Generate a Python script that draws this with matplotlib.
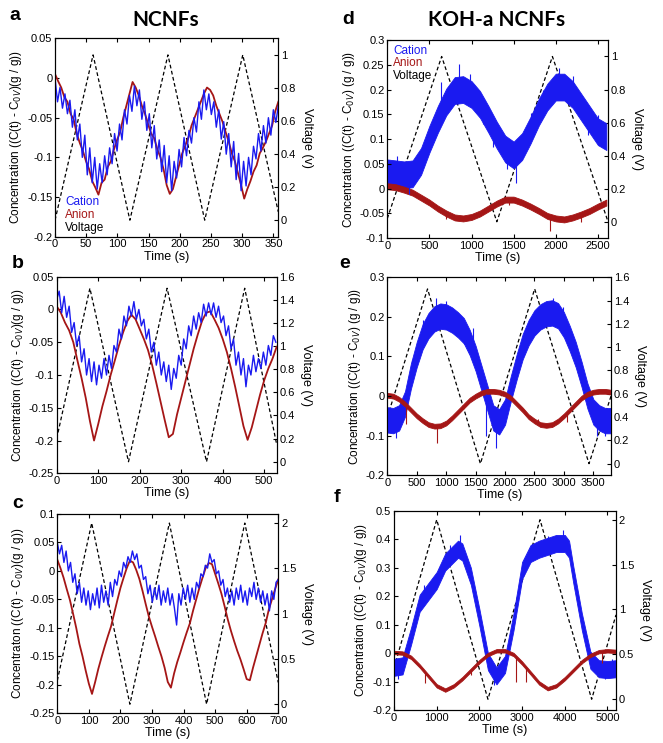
import matplotlib.pyplot as plt
import numpy as np
from matplotlib.ticker import FuncFormatter

plt.rcParams['font.family'] = ['Liberation Sans', 'DejaVu Sans']
plt.rcParams['axes.unicode_minus'] = False

BLUE = '#1a1af0'
RED = '#a51616'

# ============ panel a : NCNFs, 0-1 V ============
a_end = 358
a_cation = [0.000, -0.030, -0.012, -0.038, -0.020, -0.045, -0.028, -0.062, -0.040, -0.078,
            -0.058, -0.100, -0.072, -0.122, -0.088, -0.132, -0.100, -0.140, -0.108, -0.132,
            -0.098, -0.122, -0.088, -0.108, -0.070, -0.092, -0.058, -0.078, -0.040, -0.058,
            -0.022, -0.042, -0.010, -0.035, -0.015, -0.052, -0.030, -0.066, -0.045, -0.088,
            -0.060, -0.102, -0.078, -0.118, -0.085, -0.132, -0.098, -0.142, -0.105, -0.126,
            -0.090, -0.112, -0.075, -0.098, -0.066, -0.082, -0.050, -0.068, -0.030, -0.052,
            -0.015, -0.040, -0.020, -0.046, -0.030, -0.062, -0.040, -0.077, -0.055, -0.096,
            -0.070, -0.112, -0.080, -0.128, -0.095, -0.142, -0.105, -0.136, -0.100, -0.122,
            -0.086, -0.102, -0.070, -0.092, -0.060, -0.082, -0.050, -0.072, -0.040, -0.056,
            -0.035]
a_anion = [0.005, -0.004, -0.012, -0.024, -0.030, -0.045, -0.052, -0.070, -0.082, -0.092,
           -0.105, -0.115, -0.130, -0.138, -0.147, -0.132, -0.128, -0.112, -0.105, -0.090,
           -0.078, -0.068, -0.050, -0.035, -0.020, -0.005, -0.012, -0.022, -0.035, -0.045,
           -0.058, -0.070, -0.076, -0.090, -0.100, -0.115, -0.135, -0.146, -0.140, -0.125,
           -0.110, -0.095, -0.085, -0.075, -0.060, -0.050, -0.040, -0.030, -0.020, -0.012,
           -0.015, -0.022, -0.035, -0.045, -0.055, -0.068, -0.080, -0.095, -0.105, -0.120,
           -0.135, -0.152, -0.140, -0.130, -0.118, -0.110, -0.095, -0.088, -0.080, -0.070,
           -0.060, -0.042, -0.030]
a_volt_t = [0, 61, 120, 181, 240, 301, 358]
a_volt_v = [0.0, 1.0, 0.0, 1.0, 0.0, 1.0, 0.05]

# ============ panel b : NCNFs, 0-1.5 V ============
b_end = 530
b_cation = [0.015, 0.028, -0.005, 0.020, -0.012, 0.005, -0.035, -0.020, -0.055, -0.040,
            -0.080, -0.060, -0.100, -0.075, -0.110, -0.080, -0.115, -0.085, -0.105, -0.075,
            -0.100, -0.070, -0.090, -0.055, -0.065, -0.030, -0.045, -0.010, -0.025, 0.005,
            -0.010, 0.012, -0.015, 0.000, -0.025, -0.015, -0.045, -0.030, -0.065, -0.050,
            -0.085, -0.065, -0.100, -0.080, -0.110, -0.085, -0.122, -0.090, -0.105, -0.070,
            -0.085, -0.045, -0.060, -0.025, -0.040, -0.010, -0.030, -0.005, -0.020, 0.008,
            -0.010, 0.010, -0.008, 0.010, -0.012, 0.005, -0.020, -0.010, -0.040, -0.025,
            -0.060, -0.045, -0.085, -0.065, -0.100, -0.075, -0.118, -0.085, -0.100, -0.070,
            -0.095, -0.075, -0.090, -0.065, -0.085, -0.055, -0.070, -0.040, -0.050]
b_anion = [0.005, -0.005, -0.020, -0.032, -0.050, -0.078, -0.105, -0.135, -0.170, -0.200,
           -0.175, -0.148, -0.125, -0.100, -0.078, -0.055, -0.035, -0.018, -0.008, -0.015,
           -0.030, -0.045, -0.062, -0.085, -0.112, -0.140, -0.168, -0.195, -0.190, -0.160,
           -0.135, -0.110, -0.085, -0.060, -0.038, -0.018, -0.005, -0.003, -0.015, -0.028,
           -0.045, -0.065, -0.090, -0.118, -0.148, -0.178, -0.199, -0.180, -0.155, -0.130,
           -0.108, -0.090, -0.075, -0.057]
b_volt_t = [0, 80, 173, 266, 361, 453, 530]
b_volt_v = [0.2, 1.5, 0.0, 1.5, 0.0, 1.5, 0.15]

# ============ panel c : NCNFs, 0-2 V ============
c_end = 700
c_cation = [0.050, 0.030, 0.045, 0.015, 0.035, 0.000, 0.015, -0.020, -0.005, -0.040,
            -0.020, -0.055, -0.030, -0.060, -0.035, -0.068, -0.040, -0.060, -0.030, -0.065,
            -0.025, -0.055, -0.035, -0.060, -0.020, -0.045, -0.015, -0.025, 0.000, -0.010,
            0.015, 0.005, 0.025, 0.015, 0.035, 0.020, 0.030, 0.005, 0.010, -0.015,
            -0.010, -0.040, -0.025, -0.055, -0.030, -0.050, -0.025, -0.060, -0.035, -0.055,
            -0.030, -0.060, -0.040, -0.065, -0.095, -0.040, -0.060, -0.030, -0.050, -0.025,
            -0.055, -0.030, -0.050, -0.020, -0.030, -0.005, -0.010, 0.010, 0.005, 0.030,
            0.015, 0.020, -0.005, 0.000, -0.025, -0.015, -0.045, -0.030, -0.055, -0.035,
            -0.060, -0.030, -0.050, -0.025, -0.055, -0.035, -0.060, -0.030, -0.045, -0.020,
            -0.050, -0.030, -0.055, -0.035, -0.060, -0.040, -0.070, -0.035, -0.050, -0.020,
            -0.015]
c_anion = [0.020, 0.005, -0.012, -0.032, -0.051, -0.075, -0.100, -0.128, -0.150, -0.175,
           -0.198, -0.216, -0.195, -0.172, -0.152, -0.133, -0.115, -0.098, -0.075, -0.052,
           -0.030, -0.012, 0.005, 0.018, 0.015, 0.002, -0.014, -0.035, -0.058, -0.080,
           -0.098, -0.115, -0.133, -0.150, -0.170, -0.195, -0.205, -0.180, -0.160, -0.143,
           -0.125, -0.108, -0.092, -0.070, -0.050, -0.030, -0.012, 0.005, 0.014, 0.012,
           -0.005, -0.022, -0.040, -0.062, -0.085, -0.105, -0.123, -0.140, -0.155, -0.172,
           -0.190, -0.192, -0.170, -0.150, -0.130, -0.110, -0.092, -0.068, -0.050, -0.032,
           -0.015]
c_volt_t = [0, 109, 230, 355, 473, 594, 700]
c_volt_v = [0.26, 2.0, 0.0, 2.0, 0.0, 2.0, 0.24]

# ============ panel d : KOH-a NCNFs, 0-1 V ============
d_time = list(range(0, 2700, 100))
d_cation = [0.032, 0.030, 0.028, 0.030, 0.055, 0.100, 0.140, 0.175, 0.198, 0.200,
            0.190, 0.170, 0.140, 0.108, 0.080, 0.068, 0.085, 0.118, 0.155, 0.185,
            0.205, 0.205, 0.190, 0.165, 0.140, 0.115, 0.105]
d_anion = [0.005, 0.003, -0.002, -0.008, -0.018, -0.028, -0.040, -0.050, -0.058, -0.060,
           -0.057, -0.050, -0.040, -0.030, -0.022, -0.022, -0.028, -0.036, -0.045, -0.055,
           -0.060, -0.062, -0.058, -0.052, -0.045, -0.036, -0.028]
d_cation_noise = 0.027
d_anion_noise = 0.006
d_cation_spike_t = [120, 260, 420, 560, 640, 850, 980, 1130, 1250, 1420, 1530, 1700,
                    1850, 2040, 2200, 2380, 2500]
d_cation_spike_v = [0.065, -0.010, 0.088, 0.145, 0.215, 0.252, 0.232, 0.130, 0.085,
                    0.040, 0.012, 0.152, 0.200, 0.243, 0.228, 0.108, 0.148]
d_anion_spike_t = [700, 1450, 1930, 2300]
d_anion_spike_v = [-0.062, -0.033, -0.085, -0.068]
d_volt_t = [0, 645, 1300, 1960, 2620]
d_volt_v = [0.02, 1.0, 0.0, 1.0, 0.0]

# ============ panel e : KOH-a NCNFs, 0-1.5 V ============
e_time = list(range(0, 3900, 100))
e_cation = [-0.060, -0.062, -0.055, -0.020, 0.050, 0.105, 0.150, 0.178, 0.195, 0.202,
            0.200, 0.192, 0.180, 0.165, 0.135, 0.095, 0.045, -0.005, -0.055, -0.065,
            -0.040, 0.020, 0.075, 0.125, 0.160, 0.185, 0.200, 0.208, 0.210, 0.203,
            0.180, 0.145, 0.105, 0.055, 0.000, -0.040, -0.055, -0.062, -0.062]
e_anion = [0.002, 0.000, -0.008, -0.020, -0.035, -0.050, -0.062, -0.072, -0.076, -0.075,
           -0.068, -0.055, -0.040, -0.025, -0.010, 0.000, 0.008, 0.012, 0.012, 0.010,
           0.005, -0.005, -0.020, -0.035, -0.052, -0.063, -0.072, -0.074, -0.072, -0.063,
           -0.050, -0.035, -0.020, -0.005, 0.005, 0.010, 0.012, 0.012, 0.010]
e_cation_noise = 0.032
e_anion_noise = 0.006
e_cation_spike_t = [150, 420, 600, 830, 1000, 1300, 1450, 1680, 1850, 2150, 2450, 2810,
                    2980, 3250, 3560, 3700]
e_cation_spike_v = [-0.105, 0.092, 0.192, 0.247, 0.240, 0.132, 0.172, -0.100, -0.130,
                    0.065, 0.200, 0.247, 0.225, 0.070, -0.100, -0.102]
e_anion_spike_t = [320, 850, 2560, 3060]
e_anion_spike_v = [-0.070, -0.118, -0.058, -0.065]
e_volt_t = [0, 683, 1581, 2503, 3426, 3800]
e_volt_v = [0.4, 1.5, 0.0, 1.5, 0.0, 0.58]

# ============ panel f : KOH-a NCNFs, 0-2 V ============
f_cation_t = [0, 200, 400, 600, 800, 1000, 1200, 1400, 1500, 1600, 1800, 2000, 2200, 2400,
              2600, 2800, 3000, 3200, 3400, 3600, 3800, 4000, 4100, 4200, 4400, 4600, 4800,
              5000, 5200]
f_cation = [-0.050, -0.045, 0.060, 0.175, 0.215, 0.255, 0.320, 0.350, 0.365, 0.355,
            0.270, 0.125, -0.030, -0.080, -0.040, 0.110, 0.290, 0.350, 0.365, 0.375,
            0.385, 0.385, 0.365, 0.275, 0.110, -0.025, -0.055, -0.058, -0.055]
f_anion_t = list(range(0, 5400, 200))
f_anion = [0.002, 0.000, -0.015, -0.045, -0.080, -0.115, -0.130, -0.115, -0.090, -0.060,
           -0.030, -0.005, 0.008, 0.008, -0.005, -0.035, -0.070, -0.105, -0.125, -0.115,
           -0.090, -0.060, -0.030, -0.008, 0.005, 0.008, 0.006]
f_cation_noise = 0.03
f_anion_noise = 0.006
f_cation_spike_t = [100, 700, 1300, 1550, 2350, 3600, 3950, 4950, 5100]
f_cation_spike_v = [-0.092, 0.240, 0.380, 0.415, -0.112, 0.410, 0.432, -0.092, -0.020]
f_anion_spike_t = [724, 1815, 2866, 3100, 4880]
f_anion_spike_v = [-0.105, -0.077, -0.100, -0.100, -0.035]
f_volt_t = [0, 1000, 2200, 3420, 4630, 5200]
f_volt_v = [0.35, 2.0, 0.0, 2.0, 0.0, 0.94]

fmt = FuncFormatter(lambda v, p: '0' if abs(v) < 1e-9 else '%g' % round(v, 6))

fig = plt.figure(figsize=(6.63, 7.43), dpi=100)


def setup(rect, xlim, xticks, ylim, yticks, vlim, vticks, ylabel, vlabel):
    ax = fig.add_axes(rect)
    tw = ax.twinx()
    ax.set_zorder(tw.get_zorder() + 1)
    ax.patch.set_visible(False)
    ax.set_xlim(xlim)
    ax.set_ylim(ylim)
    ax.set_xticks(xticks)
    ax.set_yticks(yticks)
    tw.set_ylim(vlim)
    tw.set_yticks(vticks)
    for a_ in (ax, tw):
        a_.xaxis.set_major_formatter(fmt)
        a_.yaxis.set_major_formatter(fmt)
        a_.tick_params(direction='in', length=3, labelsize=8, pad=2)
        for s in a_.spines.values():
            s.set_linewidth(0.8)
    ax.tick_params(top=True)
    ax.set_xlabel('Time (s)', fontsize=9, labelpad=1)
    ax.set_ylabel(ylabel, fontsize=8.5, labelpad=2)
    tw.set_ylabel(vlabel, fontsize=9, rotation=-90, labelpad=12)
    return ax, tw


def volt(tw, t, v):
    tw.plot(t, v, color='black', lw=0.9, ls=(0, (3, 2)))


def band(ax, t, mid, noise, color):
    mid = np.asarray(mid)
    ax.fill_between(t, mid - noise, mid + noise, color=color, lw=0.6, edgecolor=color)


def spikes(ax, mid_t, mid, st, sv, color):
    base = np.interp(st, mid_t, mid)
    ax.vlines(st, base, sv, color=color, lw=0.8)


ylab1 = 'Concentration ((C(t) - C$_{0V}$)(g / g))'
ylab2 = 'Concentration ((C(t) - C$_{0V}$) (g / g))'

# a
ax, tw = setup([0.0830, 0.6814, 0.3368, 0.2670], (0, a_end), range(0, 351, 50),
               (-0.2, 0.05), [-0.2, -0.15, -0.1, -0.05, 0, 0.05],
               (-0.1, 1.1), [0, 0.2, 0.4, 0.6, 0.8, 1], ylab1, 'Voltage (v)')
volt(tw, a_volt_t, a_volt_v)
ax.plot(np.linspace(0, a_end, len(a_anion)), a_anion, color=RED, lw=1.3)
ax.plot(np.linspace(0, a_end, len(a_cation)), a_cation, color=BLUE, lw=1.0)
for txt, col, yy in [('Cation', BLUE, 0.176), ('Anion', RED, 0.109), ('Voltage', 'black', 0.045)]:
    ax.text(0.045, yy, txt, color=col, fontsize=8.5, transform=ax.transAxes, va='center')

# b
ax, tw = setup([0.0855, 0.3630, 0.3318, 0.2646], (0, b_end), range(0, 501, 100),
               (-0.25, 0.05), [-0.25, -0.2, -0.15, -0.1, -0.05, 0, 0.05],
               (-0.1, 1.6), [0, 0.2, 0.4, 0.6, 0.8, 1, 1.2, 1.4, 1.6], ylab1, 'Voltage (V)')
volt(tw, b_volt_t, b_volt_v)
ax.plot(np.linspace(0, b_end, len(b_anion)), b_anion, color=RED, lw=1.3)
ax.plot(np.linspace(0, 528, len(b_cation)), b_cation, color=BLUE, lw=1.0)

# c
ax, tw = setup([0.0864, 0.0400, 0.3333, 0.2682], (0, c_end), range(0, 701, 100),
               (-0.25, 0.1), [-0.25, -0.2, -0.15, -0.1, -0.05, 0, 0.05, 0.1],
               (-0.1, 2.1), [0, 0.5, 1, 1.5, 2],
               'Concentraton ((C(t) - C$_{0V}$)(g / g))', 'Voltage (V)')
volt(tw, c_volt_t, c_volt_v)
ax.plot(np.linspace(0, c_end, len(c_anion)), c_anion, color=RED, lw=1.3)
ax.plot(np.linspace(0, c_end, len(c_cation)), c_cation, color=BLUE, lw=1.0)

# d
ax, tw = setup([0.5842, 0.6793, 0.3329, 0.2669], (0, 2620), range(0, 2501, 500),
               (-0.1, 0.3), [-0.1, -0.05, 0, 0.05, 0.1, 0.15, 0.2, 0.25, 0.3],
               (-0.1, 1.1), [0, 0.2, 0.4, 0.6, 0.8, 1], ylab2, 'Voltage (V)')
volt(tw, d_volt_t, d_volt_v)
band(ax, d_time, d_cation, d_cation_noise, BLUE)
spikes(ax, d_time, d_cation, d_cation_spike_t, d_cation_spike_v, BLUE)
band(ax, d_time, d_anion, d_anion_noise, RED)
spikes(ax, d_time, d_anion, d_anion_spike_t, d_anion_spike_v, RED)
for txt, col, yy in [('Cation', BLUE, 0.946), ('Anion', RED, 0.883), ('Voltage', 'black', 0.819)]:
    ax.text(0.027, yy, txt, color=col, fontsize=8.5, transform=ax.transAxes, va='center')

# e
ax, tw = setup([0.5842, 0.3603, 0.3374, 0.2665], (0, 3800), range(0, 3501, 500),
               (-0.2, 0.3), [-0.2, -0.1, 0, 0.1, 0.2, 0.3],
               (-0.1, 1.6), [0, 0.2, 0.4, 0.6, 0.8, 1, 1.2, 1.4, 1.6], ylab2, 'Voltage (V)')
volt(tw, e_volt_t, e_volt_v)
band(ax, e_time, e_cation, e_cation_noise, BLUE)
spikes(ax, e_time, e_cation, e_cation_spike_t, e_cation_spike_v, BLUE)
band(ax, e_time, e_anion, e_anion_noise, RED)
spikes(ax, e_time, e_anion, e_anion_spike_t, e_anion_spike_v, RED)

# f
ax, tw = setup([0.5943, 0.0444, 0.3348, 0.2682], (0, 5200), range(0, 5001, 1000),
               (-0.2, 0.5), [-0.2, -0.1, 0, 0.1, 0.2, 0.3, 0.4, 0.5],
               (-0.12, 2.1), [0, 0.5, 1, 1.5, 2], ylab1, 'Voltage (V)')
volt(tw, f_volt_t, f_volt_v)
band(ax, f_cation_t, f_cation, f_cation_noise, BLUE)
spikes(ax, f_cation_t, f_cation, f_cation_spike_t, f_cation_spike_v, BLUE)
band(ax, f_anion_t, f_anion, f_anion_noise, RED)
spikes(ax, f_anion_t, f_anion, f_anion_spike_t, f_anion_spike_v, RED)

# titles and panel letters
fig.text(166 / 663, 1 - 20 / 743, 'NCNFs', fontsize=15, fontweight='bold',
         family=['Lato', 'DejaVu Sans'], ha='center', va='center')
fig.text(497 / 663, 1 - 20 / 743, 'KOH-a NCNFs', fontsize=15, fontweight='bold',
         family=['Lato', 'DejaVu Sans'], ha='center', va='center')
for lab, x, y in [('a', 15, 16), ('b', 18, 263), ('c', 18, 503),
                  ('d', 348, 20), ('e', 345, 263), ('f', 337, 498)]:
    fig.text(x / 663, 1 - y / 743, lab, fontsize=14, fontweight='bold',
             ha='center', va='center')

fig.savefig('out.png', dpi=100)
